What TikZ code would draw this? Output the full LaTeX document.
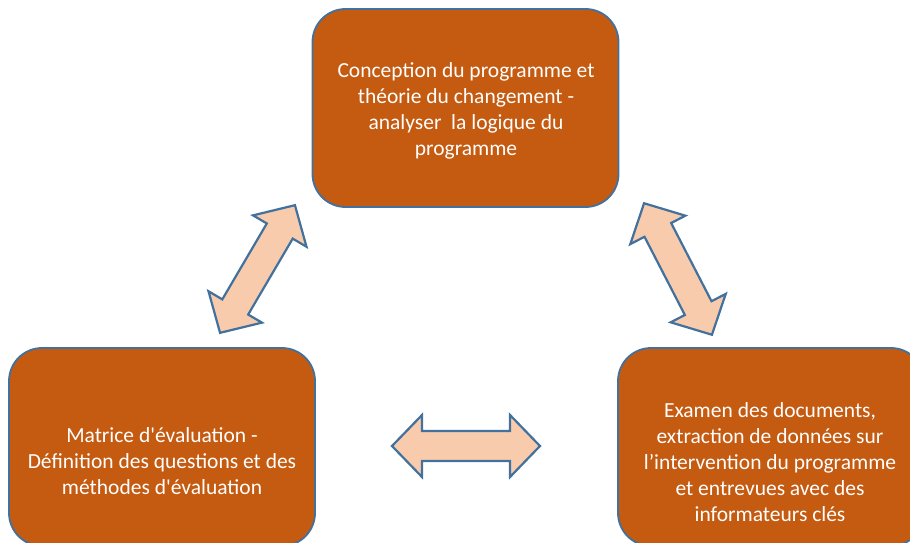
\documentclass[tikz,border=0pt]{standalone}
\usepackage{fontspec}
\newfontfamily\boxfont{Carlito}
\definecolor{boxfill}{HTML}{C55A11}
\definecolor{boxline}{HTML}{41719C}
\definecolor{arrfill}{HTML}{F8CBAD}
\tikzset{
  stepbox/.style={draw=boxline, line width=1.8pt, fill=boxfill, rounded corners=33pt,
    minimum width=306pt, minimum height=198pt, inner sep=0pt},
  boxtext/.style={text=white, align=center, inner sep=0pt,
    font=\boxfont\fontsize{21.5}{26}\selectfont},
  blockarrow/.style={draw=boxline, line width=2.2pt, fill=arrfill, line join=miter}
}
\newcommand{\dblarrowpath}{(-74,0) -- (-44,31) -- (-44,15) -- (44,15) -- (44,31) -- (74,0) -- (44,-31) -- (44,-15) -- (-44,-15) -- (-44,-31) -- cycle}
\begin{document}
\begin{tikzpicture}[x=1pt,y=-1pt]
\useasboundingbox (0,0) rectangle (910,543);
% boxes
\node[stepbox] (top) at (465.5,108) {};
\node[stepbox] (left) at (162,447) {};
\node[stepbox] (right) at (771,447) {};
% texts
\node[boxtext] (toptext) at (466,111) {Conception du programme et\\th\'eorie du changement -\\analyser~ la logique du\\programme};
\node[boxtext] (lefttext) at (162,461) {Matrice d'évaluation -\\Définition des questions et des\\méthodes d'évaluation};
\node[boxtext] (righttext) at (770,462) {Examen des documents,\\extraction de données sur\\l’intervention du programme\\et entrevues avec des\\informateurs clés};
% block arrows
\begin{scope}[shift={(257.5,269)}, rotate=59.6]
  \draw[blockarrow] \dblarrowpath;
\end{scope}
\begin{scope}[shift={(678,269)}, rotate=-62.7]
  \draw[blockarrow] \dblarrowpath;
\end{scope}
\begin{scope}[shift={(466,446)}]
  \draw[blockarrow] \dblarrowpath;
\end{scope}
\end{tikzpicture}
\end{document}
